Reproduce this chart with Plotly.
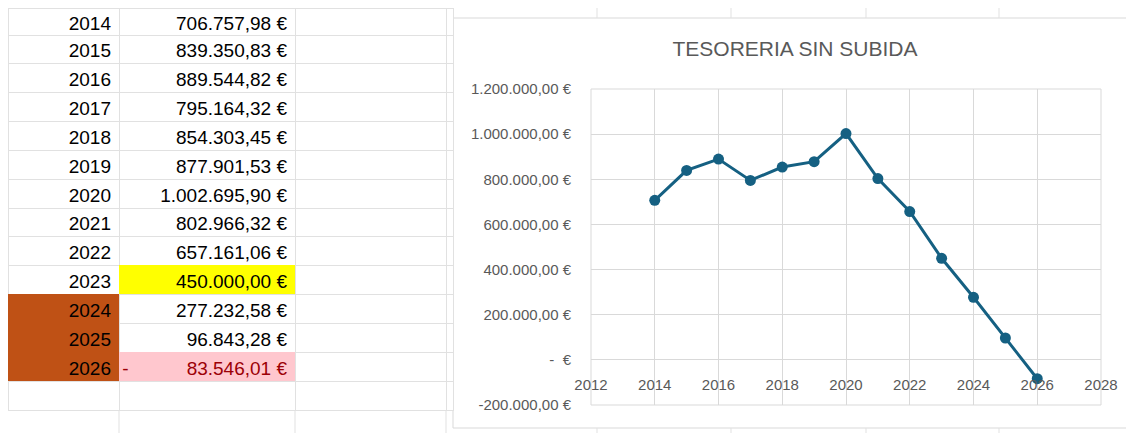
import plotly.graph_objects as go

# ---------------- data ----------------
years = [2014, 2015, 2016, 2017, 2018, 2019, 2020, 2021, 2022, 2023, 2024, 2025, 2026]
treasury = [706757.98, 839350.83, 889544.82, 795164.32, 854303.45, 877901.53,
            1002695.90, 802966.32, 657161.06, 450000.00, 277232.58, 96843.28, -83546.01]
highlight_year = 2023
projection_start = 2024
title_text = "TESORERIA SIN SUBIDA"
y_tickvals = [-200000, 0, 200000, 400000, 600000, 800000, 1000000, 1200000]
y_ticktext = ["-200.000,00 €", "-  €", "200.000,00 €", "400.000,00 €", "600.000,00 €",
              "800.000,00 €", "1.000.000,00 €", "1.200.000,00 €"]
x_range = [2012, 2028]
y_range = [-200000, 1200000]

# the page body has an 8px margin: lay the figure out in window coordinates
OFF = 8
WIN_W, WIN_H = 1134, 433
W, H = WIN_W - OFF, WIN_H - OFF
NB = "\u00a0"


def eur(v):
    s = f"{abs(v):,.2f}".replace(",", "X").replace(".", ",").replace("X", ".")
    if v < 0:
        return "-" + NB * 11 + s + NB + "€"
    return s + NB + "€"


def px(x):
    return (x - OFF) / W


def py(y):
    return 1 - (y - OFF) / H


ORANGE = "#BF5115"
YELLOW = "#FFFF00"
PINK = "#FFC7CE"
DARKRED = "#9C0006"
SHEETLINE = "#E1E1E1"
GRID = "#D9D9D9"
LINEC = "#156082"
TXT = "#595959"

# ---------------- spreadsheet (table) ----------------
col_a = [str(y) for y in years[1:]] + [""]
col_b = [eur(v) for v in treasury[1:]] + [""]
col_c = [""] * len(col_a)
col_d = [""] * len(col_a)

fill_a = [ORANGE if y >= projection_start else "white" for y in years[1:]] + ["white"]
fill_b = []
font_b = []
for y, v in zip(years[1:], treasury[1:]):
    if v < 0:
        fill_b.append(PINK)
        font_b.append(DARKRED)
    elif y == highlight_year:
        fill_b.append(YELLOW)
        font_b.append("black")
    else:
        fill_b.append("white")
        font_b.append("black")
fill_b.append("white")
font_b.append("black")
fill_c = ["white"] * len(col_a)
font_a = ["black"] * len(col_a)
# filled cells hide the sheet gridlines
line_a = [c if c != "white" else SHEETLINE for c in fill_a]
line_b = [c if c != "white" else SHEETLINE for c in fill_b]
line_c = [SHEETLINE] * len(col_a)

ROW_H = 28.85
SHEET_FONT = "Liberation Sans, Arial, sans-serif"

table = go.Table(
    domain=dict(x=[px(8), px(453)], y=[0, 1]),
    columnwidth=[111, 176, 151, 7],
    header=dict(
        values=[str(years[0]), eur(treasury[0]), "", ""],
        height=27,
        align="right",
        fill=dict(color="white"),
        line=dict(color=SHEETLINE, width=1),
        font=dict(family=SHEET_FONT, size=19, color="black"),
    ),
    cells=dict(
        values=[col_a, col_b, col_c, col_d],
        height=ROW_H,
        align="right",
        fill=dict(color=[fill_a, fill_b, fill_c, fill_c]),
        line=dict(color=[line_a, line_b, line_c, line_c], width=1),
        font=dict(family=SHEET_FONT, size=19, color=[font_a, font_b, font_a, font_a]),
    ),
)

# ---------------- chart ----------------
line = go.Scatter(
    x=years, y=treasury, mode="lines+markers",
    line=dict(color=LINEC, width=3),
    marker=dict(color=LINEC, size=11),
    showlegend=False, hoverinfo="x+y",
)

fig = go.Figure([table, line])

yd = [py(405), py(89)]
xd = [px(591), px(1101)]
zero_pos = yd[0] + (yd[1] - yd[0]) * (0 - y_range[0]) / (y_range[1] - y_range[0])

shapes = [
    # chart area
    dict(type="rect", xref="paper", yref="paper", x0=px(453), x1=px(1145), y0=py(428), y1=py(18),
         fillcolor="white", line=dict(color=GRID, width=1), layer="below"),
    # plot area box
    dict(type="rect", xref="x domain", yref="y domain", x0=0, x1=1, y0=0, y1=1,
         line=dict(color=GRID, width=1), layer="below"),
]
# sheet gridlines visible around the chart
for xv in [597, 731, 866, 999, 1133]:
    shapes.append(dict(type="line", xref="paper", yref="paper", x0=px(xv), x1=px(xv), y0=py(8), y1=py(18),
                       line=dict(color=SHEETLINE, width=1), layer="below"))
    shapes.append(dict(type="line", xref="paper", yref="paper", x0=px(xv), x1=px(xv), y0=py(428), y1=0,
                       line=dict(color=SHEETLINE, width=1), layer="below"))
for xv in [119, 295, 446]:
    shapes.append(dict(type="line", xref="paper", yref="paper", x0=px(xv), x1=px(xv), y0=py(410), y1=0,
                       line=dict(color=SHEETLINE, width=1), layer="below"))

fig.update_layout(
    width=W, height=H,
    margin=dict(l=0, r=0, t=0, b=0, pad=0, autoexpand=False),
    paper_bgcolor="white",
    plot_bgcolor="rgba(0,0,0,0)",
    font=dict(family="Liberation Sans, Arial, sans-serif", color=TXT, size=15),
    title=dict(text=title_text, x=px(795), y=py(49), xanchor="center", yanchor="middle",
               font=dict(size=21, color=TXT)),
    shapes=shapes,
    xaxis=dict(domain=xd, range=x_range, dtick=2, tick0=2012, anchor="free", position=zero_pos,
               showgrid=True, gridcolor=GRID, gridwidth=1, zeroline=False, showline=False,
               ticks="outside", ticklen=11, tickcolor="rgba(0,0,0,0)", automargin=False,
               tickfont=dict(size=15, color=TXT)),
    yaxis=dict(domain=yd, range=y_range, tickvals=y_tickvals, ticktext=y_ticktext,
               showgrid=True, gridcolor=GRID, gridwidth=1, zeroline=True, zerolinecolor=GRID,
               zerolinewidth=1, showline=False, ticks="outside", ticklen=16, automargin=False,
               tickcolor="rgba(0,0,0,0)", tickfont=dict(size=15, color=TXT)),
)

fig.write_html("out.html")
